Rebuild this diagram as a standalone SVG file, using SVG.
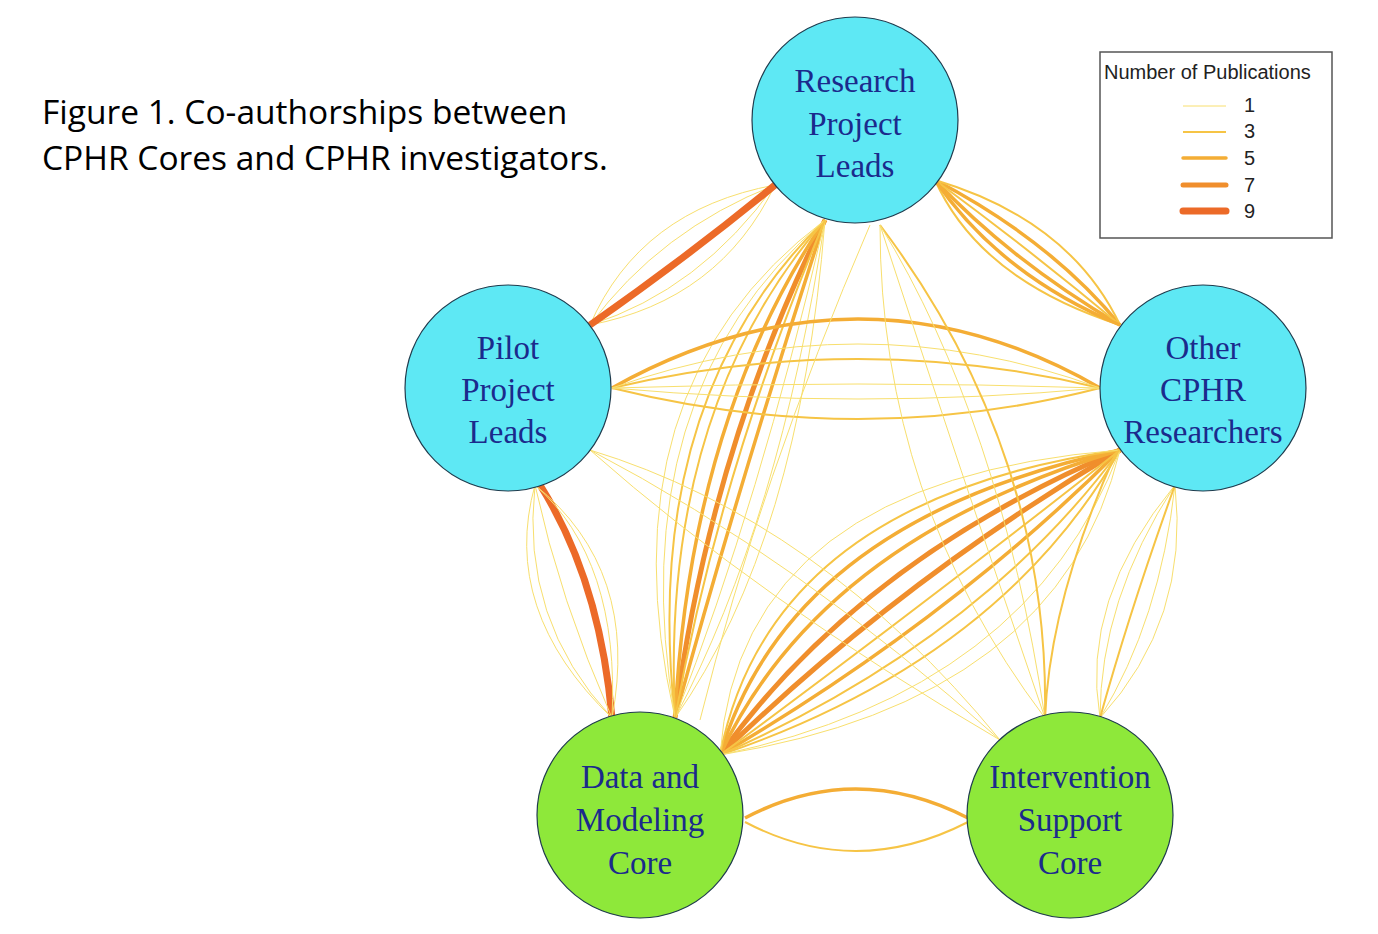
<svg xmlns="http://www.w3.org/2000/svg" width="1378" height="934" viewBox="0 0 1378 934">
<style>
.w1{fill:none;stroke:#f8df6e;stroke-width:1}
.w3{fill:none;stroke:#f6c445;stroke-width:2}
.w5{fill:none;stroke:#f4ad35;stroke-width:3.5}
.w7{fill:none;stroke:#f08e2c;stroke-width:5}
.w9{fill:none;stroke:#ec6a28;stroke-width:7}
.nb{fill:#5ee8f4;stroke:#1f3b4d;stroke-width:1.2}
.ng{fill:#8ee83a;stroke:#1f3b4d;stroke-width:1.2}
.lbl{font-family:"Liberation Serif",serif;font-size:33px;fill:#1b2a8c;text-anchor:middle}
.lg{font-family:"Liberation Sans",sans-serif;font-size:20px;fill:#222}
</style>
<rect width="1378" height="934" fill="#fff"/>
<text x="42" y="124" font-family="Open Sans, sans-serif" font-size="33.5" fill="#000">Figure 1. Co-authorships between</text>
<text x="42" y="170" font-family="Open Sans, sans-serif" font-size="33.5" fill="#000">CPHR Cores and CPHR investigators.</text>
<g id="connectors">
<path class="w1" d="M590,325 Q640,210 775,185"/>
<path class="w1" d="M590,325 Q660,230 775,185"/>
<path class="w1" d="M590,325 Q700,290 775,185"/>
<path class="w1" d="M590,325 Q720,300 775,185"/>
<path class="w9" d="M590,325 Q690,255 775,185"/>
<path class="w5" d="M935,180 Q1010,260 1120,325"/>
<path class="w5" d="M935,180 Q1050,240 1120,325"/>
<path class="w3" d="M935,180 Q1030,250 1120,325"/>
<path class="w3" d="M935,180 Q980,280 1120,325"/>
<path class="w3" d="M935,180 Q1070,220 1120,325"/>
<path class="w5" d="M935,180 Q1000,275 1120,325"/>
<path class="w7" d="M825,220 Q710,450 675,718"/>
<path class="w5" d="M825,220 Q690,420 675,718"/>
<path class="w5" d="M825,220 Q740,480 675,718"/>
<path class="w3" d="M825,220 Q640,400 675,718"/>
<path class="w3" d="M825,220 Q660,410 675,718"/>
<path class="w1" d="M825,220 Q600,390 675,718"/>
<path class="w1" d="M825,220 Q620,395 675,718"/>
<path class="w1" d="M825,220 Q760,500 675,718"/>
<path class="w1" d="M825,220 Q780,520 675,718"/>
<path class="w1" d="M825,220 Q800,540 675,718"/>
<path class="w3" d="M825,220 Q720,470 675,718"/>
<path class="w7" d="M1120,450 Q860,560 720,755"/>
<path class="w7" d="M1120,450 Q900,580 720,755"/>
<path class="w5" d="M1120,450 Q820,540 720,755"/>
<path class="w5" d="M1120,450 Q950,620 720,755"/>
<path class="w5" d="M1120,450 Q790,520 720,755"/>
<path class="w3" d="M1120,450 Q1000,660 720,755"/>
<path class="w3" d="M1120,450 Q980,640 720,755"/>
<path class="w3" d="M1120,450 Q770,500 720,755"/>
<path class="w1" d="M1120,450 Q1030,690 720,755"/>
<path class="w1" d="M1120,450 Q1060,700 720,755"/>
<path class="w1" d="M1120,450 Q740,480 720,755"/>
<path class="w3" d="M1120,450 Q930,600 720,755"/>
<path class="w9" d="M540,485 Q600,580 612,718"/>
<path class="w1" d="M535,485 Q520,620 612,718"/>
<path class="w1" d="M535,485 Q500,610 612,718"/>
<path class="w1" d="M535,485 Q560,600 612,718"/>
<path class="w1" d="M535,485 Q640,570 612,718"/>
<path class="w1" d="M535,485 Q620,560 612,718"/>
<path class="w1" d="M1175,485 Q1080,600 1100,718"/>
<path class="w1" d="M1175,485 Q1100,600 1100,718"/>
<path class="w1" d="M1175,485 Q1160,620 1100,718"/>
<path class="w1" d="M1175,485 Q1190,620 1100,718"/>
<path class="w3" d="M1175,485 Q1130,610 1100,718"/>
<path class="w5" d="M745,818 Q855,760 968,818"/>
<path class="w3" d="M745,822 Q855,880 968,822"/>
<path class="w5" d="M612,388 Q860,250 1100,388"/>
<path class="w3" d="M612,388 Q860,330 1100,388"/>
<path class="w3" d="M612,388 Q860,450 1100,388"/>
<path class="w1" d="M612,388 Q860,380 1100,388"/>
<path class="w1" d="M612,388 Q860,410 1100,388"/>
<path class="w1" d="M612,388 Q860,300 1100,388"/>
<path class="w3" d="M880,225 Q1050,450 1045,718"/>
<path class="w1" d="M880,225 Q960,470 1045,718"/>
<path class="w1" d="M880,225 Q880,500 1045,718"/>
<path class="w1" d="M880,225 Q1000,420 1045,718"/>
<path class="w3" d="M1115,455 Q1050,600 1045,718"/>
<path class="w1" d="M590,450 Q800,560 1000,740"/>
<path class="w1" d="M590,450 Q820,520 1000,740"/>
<path class="w1" d="M590,450 Q760,600 1000,740"/>
<path class="w1" d="M870,225 Q760,480 700,720"/>
</g>
<g id="n-research"><circle class="nb" cx="855" cy="120" r="103"/><text class="lbl"><tspan x="855" y="92">Research</tspan><tspan x="855" y="135">Project</tspan><tspan x="855" y="177">Leads</tspan></text></g>
<g id="n-pilot"><circle class="nb" cx="508" cy="388" r="103"/><text class="lbl"><tspan x="508" y="359">Pilot</tspan><tspan x="508" y="401">Project</tspan><tspan x="508" y="443">Leads</tspan></text></g>
<g id="n-other"><circle class="nb" cx="1203" cy="388" r="103"/><text class="lbl"><tspan x="1203" y="359">Other</tspan><tspan x="1203" y="401">CPHR</tspan><tspan x="1203" y="443">Researchers</tspan></text></g>
<g id="n-data"><circle class="ng" cx="640" cy="815" r="103"/><text class="lbl"><tspan x="640" y="788">Data and</tspan><tspan x="640" y="831">Modeling</tspan><tspan x="640" y="874">Core</tspan></text></g>
<g id="n-intervention"><circle class="ng" cx="1070" cy="815" r="103"/><text class="lbl"><tspan x="1070" y="788">Intervention</tspan><tspan x="1070" y="831">Support</tspan><tspan x="1070" y="874">Core</tspan></text></g>
<g id="legend">
<rect x="1100" y="52" width="232" height="186" fill="#fff" stroke="#555" stroke-width="1.5"/>
<text class="lg" x="1104" y="79">Number of Publications</text>
<line x1="1183" y1="106" x2="1226" y2="106" class="w1"/><text class="lg" x="1244" y="112">1</text>
<line x1="1183" y1="132" x2="1226" y2="132" class="w3"/><text class="lg" x="1244" y="138">3</text>
<line x1="1183" y1="158" x2="1226" y2="158" class="w5" stroke-linecap="round"/><text class="lg" x="1244" y="165">5</text>
<line x1="1183" y1="185" x2="1226" y2="185" class="w7" stroke-linecap="round"/><text class="lg" x="1244" y="192">7</text>
<line x1="1183" y1="211" x2="1226" y2="211" class="w9" stroke-linecap="round"/><text class="lg" x="1244" y="218">9</text>
</g>
</svg>
